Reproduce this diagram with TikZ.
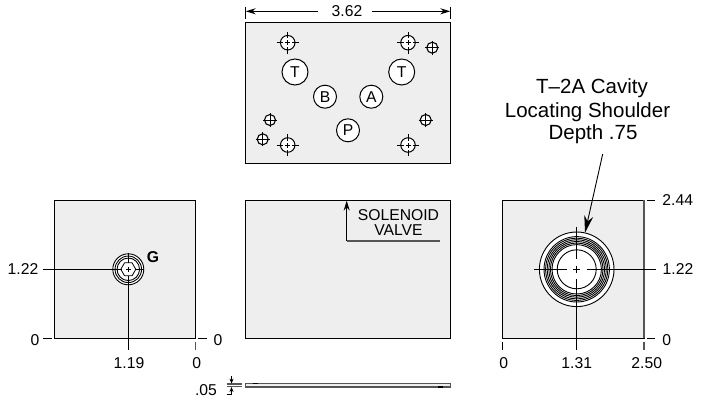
\documentclass[tikz,border=0pt]{standalone}
\usepackage{fontspec}
\setmainfont{Liberation Sans}
\usetikzlibrary{arrows.meta, shapes.geometric}
\definecolor{plategray}{HTML}{EEEEEE}
\definecolor{edgegray}{HTML}{555555}
\newcommand{\LabelFont}{\fontsize{15.7}{16}\selectfont}
\newcommand{\CalloutFont}{\fontsize{20.5}{22}\selectfont}
\tikzset{
  plate/.style={draw=black, line width=1.1pt, fill=plategray},
  dimline/.style={draw=black, line width=1pt},
  dimtip/.style={-{Stealth[length=10pt, width=6pt]}},
  dimlabel/.style={inner sep=0pt, font=\LabelFont},
  callout/.style={inner sep=0pt, font=\CalloutFont},
  bighole/.style={circle, draw=black, line width=1pt, fill=white, minimum size=14.5pt, inner sep=0pt},
  smallhole/.style={circle, draw=black, line width=1.1pt, fill=white, minimum size=11pt, inner sep=0pt},
  portbig/.style={circle, draw=black, line width=1pt, fill=white, minimum size=26pt, inner sep=0pt, font=\LabelFont},
  portsmall/.style={circle, draw=black, line width=1pt, fill=white, minimum size=23pt, inner sep=0pt, font=\LabelFont},
  ring/.style={circle, draw=black, line width=0.9pt, inner sep=0pt, fill=none}
}
\begin{document}
\begin{tikzpicture}[x=1pt, y=-1pt]
  \useasboundingbox (0,0) rectangle (703,402);
  % plates
  \filldraw[plate] (245.7,22.7) rectangle (450.3,163.5);
  \filldraw[plate] (54.4,200.3) rectangle (195.5,338.3);
  \filldraw[plate] (245.5,200.3) rectangle (450.5,338.3);
  \filldraw[plate] (502.7,200.3) rectangle (644,338.3);
  \draw[edgegray, line width=1.8pt] (644,200.3) -- (644,338.3);
  \filldraw[draw=edgegray, fill=plategray, line width=1.2pt] (245.5,383.6) rectangle (450.5,387);
  \draw[line width=1.1pt] (252.5,383.6) -- (257.5,383.6);
  \draw[line width=1.1pt] (438,387) -- (443,387);
  % top view holes
  \node[bighole] (holeA) at (287.7,42.7) {};
  \node[bighole] (holeB) at (408,42.7) {};
  \node[bighole] (holeC) at (287.7,145) {};
  \node[bighole] (holeD) at (408,145) {};
  \node[smallhole] (holeE) at (432.3,47.7) {};
  \node[smallhole] (holeF) at (270,120) {};
  \node[smallhole] (holeG) at (262.7,139.3) {};
  \node[smallhole] (holeH) at (425.7,120) {};
  \foreach \n in {holeA, holeB, holeC, holeD} {
    \draw[line width=0.8pt] ([xshift=-11pt]\n.center) -- ([xshift=-4.5pt]\n.center);
    \draw[line width=0.8pt] ([xshift=4.5pt]\n.center) -- ([xshift=11pt]\n.center);
    \draw[line width=0.8pt] ([yshift=-11pt]\n.center) -- ([yshift=-4.5pt]\n.center);
    \draw[line width=0.8pt] ([yshift=4.5pt]\n.center) -- ([yshift=11pt]\n.center);
    \draw[line width=0.8pt] ([xshift=-2.5pt]\n.center) -- ([xshift=2.5pt]\n.center);
    \draw[line width=0.8pt] ([yshift=-2.5pt]\n.center) -- ([yshift=2.5pt]\n.center);
  }
  \foreach \n in {holeE, holeF, holeG, holeH} {
    \draw[line width=0.8pt] ([xshift=-7pt]\n.center) -- ([xshift=7pt]\n.center);
    \draw[line width=0.8pt] ([yshift=-7pt]\n.center) -- ([yshift=7pt]\n.center);
  }
  % ports
  \node[portbig] (portTa) at (295,72) {T};
  \node[portbig] (portTb) at (401.7,72) {T};
  \node[portsmall] (portB) at (325,96.7) {B};
  \node[portsmall] (portA) at (371.3,96.7) {A};
  \node[portsmall] (portP) at (348,130.3) {P};
  % width of top view
  \node[dimlabel] (lblWidth) at (347,11) {3.62};
  \coordinate (widthL) at (245.7,11.3);
  \coordinate (widthR) at (450.3,11.3);
  \draw[dimline, dimtip] (lblWidth.west) ++(-14,0.3) -- (widthL);
  \draw[dimline, dimtip] (lblWidth.east) ++(10,0.3) -- (widthR);
  \draw[dimline] (245.7,6.5) -- (245.7,19);
  \draw[dimline] (450.3,6.5) -- (450.3,19);
  % left view
  \node[ring, fill=white, minimum size=31pt] (gOuter) at (128.3,269.3) {};
  \node[ring, minimum size=26.5pt] (gMid) at (128.3,269.3) {};
  \node[ring, minimum size=22.5pt] (gInner) at (128.3,269.3) {};
  \node[regular polygon, regular polygon sides=6, draw=black, line width=0.8pt, minimum size=15pt, inner sep=0pt] (gHex) at (128.3,269.3) {};
  \node[inner sep=0pt, font=\LabelFont\bfseries] (lblG) at (153,257) {G};
  \node[dimlabel] (lblLeftY) at (23,269.3) {1.22};
  \node[dimlabel] (lblLeftZero) at (35,340) {0};
  \node[dimlabel] (lblLeftX) at (129,363) {1.19};
  \node[dimlabel] (lblLeftXZero) at (196.7,363) {0};
  \node[dimlabel] (lblLeftZeroR) at (218,340) {0};
  \coordinate (gW) at (42.7,269.3);
  \coordinate (gWin) at (122,269.3);
  \coordinate (gEin) at (134.5,269.3);
  \coordinate (gE) at (144.3,269.3);
  \coordinate (gN) at (128.3,253);
  \coordinate (gNin) at (128.3,263);
  \coordinate (gSin) at (128.3,275.5);
  \coordinate (gS) at (128.3,350);
  \draw[dimline] (gW) -- (gWin);
  \draw[dimline] (gEin) -- (gE);
  \draw[dimline] (gN) -- (gNin);
  \draw[dimline] (gSin) -- (gS);
  \draw[line width=0.8pt] (125.8,269.3) -- (130.8,269.3);
  \draw[line width=0.8pt] (128.3,266.8) -- (128.3,271.8);
  \draw[dimline] (43,338.3) -- (51.7,338.3);
  \draw[dimline] (198,338.3) -- (207,338.3);
  \draw[edgegray, line width=1pt] (195.5,341.7) -- (195.5,350);
  % middle view
  \node[dimlabel, align=center] (lblValve) at (398.5,222.5) {SOLENOID\\[-1.5pt]VALVE};
  \coordinate (valveEnd) at (440,241);
  \coordinate (valveBend) at (346.7,241);
  \coordinate (valveTip) at (346.7,200.6);
  \draw[edgegray, line width=1.1pt] (valveEnd) -- (valveBend);
  \draw[dimline, dimtip] (valveBend) -- (valveTip);
  % right view
  \node[ring, fill=white, minimum size=74.6pt] (ringA) at (576.7,269.3) {};
  \foreach \d/\n in {65.4/ringB, 62.2/ringC, 59/ringD, 55.8/ringE, 52.6/ringF, 49.4/ringH, 39/ringG} {
    \node[ring, minimum size=\d pt] (\n) at (576.7,269.3) {};
  }
  \coordinate (cavW) at (534,269.3);
  \coordinate (cavWin) at (566.7,269.3);
  \coordinate (cavEin) at (586.7,269.3);
  \coordinate (cavE) at (655.7,269.3);
  \coordinate (cavN) at (576.7,226.7);
  \coordinate (cavNin) at (576.7,259.3);
  \coordinate (cavSin) at (576.7,279.3);
  \coordinate (cavS) at (576.7,350);
  \draw[dimline] (cavW) -- (cavWin);
  \draw[dimline] (cavEin) -- (cavE);
  \draw[dimline] (cavN) -- (cavNin);
  \draw[dimline] (cavSin) -- (cavS);
  \draw[line width=0.8pt] (573,269.3) -- (580.4,269.3);
  \draw[line width=0.8pt] (576.7,265.6) -- (576.7,273);
  \node[dimlabel] (lblRightTop) at (677.7,200) {2.44};
  \node[dimlabel] (lblRightY) at (678,269.3) {1.22};
  \node[dimlabel] (lblRightZero) at (666.7,340) {0};
  \node[dimlabel] (lblRightXa) at (503.7,363) {0};
  \node[dimlabel] (lblRightXb) at (576.7,363) {1.31};
  \node[dimlabel] (lblRightXc) at (646.7,363) {2.50};
  \draw[dimline] (646.7,200.3) -- (655,200.3);
  \draw[dimline] (646.7,338.3) -- (655,338.3);
  \draw[dimline] (502.7,341.7) -- (502.7,350);
  \draw[edgegray, line width=1.1pt] (644,341.7) -- (644,350);
  % callout
  \node[callout] (lblCavity) at (592,88.3) {T–2A Cavity};
  \node[callout] (lblShoulder) at (587.5,112) {Locating Shoulder};
  \node[callout] (lblDepth) at (593,134) {Depth .75};
  \coordinate (cavTail) at (602.7,154);
  \coordinate (cavTip) at (585,232.7);
  \draw[line width=0.9pt, -{Stealth[length=17pt, width=9pt]}] (cavTail) -- (cavTip);
  % thin plate
  \node[dimlabel] (lblThick) at (206,390) {.05};
  \draw[edgegray, line width=1.1pt] (226.5,384) -- (242,384);
  \draw[edgegray, line width=1.1pt] (226.5,386.8) -- (242,386.8);
  \draw[line width=0.9pt, -{Stealth[length=5pt, width=4pt]}] (231.5,376) -- (231.5,383.6);
  \draw[line width=0.9pt, -{Stealth[length=5pt, width=4pt]}] (231.5,394.5) -- (231.5,387);
  \draw[line width=0.9pt] (226.5,394.5) -- (231.5,394.5);
\end{tikzpicture}
\end{document}
